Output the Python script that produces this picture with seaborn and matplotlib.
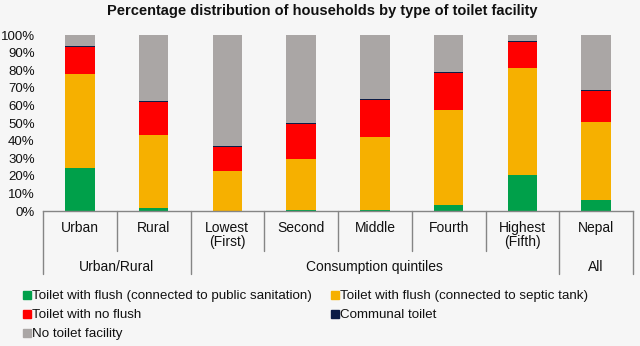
import numpy as np
import pandas as pd
import seaborn as sns
import matplotlib
matplotlib.use("Agg")
import matplotlib.pyplot as plt
from matplotlib.lines import Line2D
from matplotlib.ticker import FuncFormatter, MultipleLocator

# ---- data ----
categories = ["Urban", "Rural", "Lowest\n(First)", "Second", "Middle", "Fourth", "Highest\n(Fifth)", "Nepal"]
groups = ["Urban/Rural", "Consumption quintiles", "All"]
group_sizes = [2, 5, 1]

flush_public = [24.5, 1.9, 0.2, 0.3, 0.8, 3.4, 20.4, 6.0]
flush_septic = [53.2, 41.4, 22.8, 29.0, 41.1, 53.8, 61.1, 44.4]
no_flush = [15.6, 18.9, 13.4, 20.2, 20.9, 21.1, 14.7, 17.5]
communal = [0.6, 0.5, 0.4, 0.4, 0.8, 0.5, 0.3, 0.9]
no_toilet = [6.1, 37.3, 63.2, 50.1, 36.4, 21.2, 3.5, 31.2]

series_names = [
    "Toilet with flush (connected to public sanitation)",
    "Toilet with flush (connected to septic tank)",
    "Toilet with no flush",
    "Communal toilet",
    "No toilet facility",
]
series_values = [flush_public, flush_septic, no_flush, communal, no_toilet]
colors = ["#00a04a", "#f6b000", "#ff0000", "#0c1c46", "#aaa6a5"]

BG = "#f6f6f6"
TXT = "#111111"
LINE = "#858585"

sns.set_style("white")
plt.rcParams["font.family"] = ["Liberation Sans", "DejaVu Sans"]

fig = plt.figure(figsize=(6.4, 3.46), dpi=100, facecolor=BG)
ax = fig.add_axes([43 / 640, 1 - 211 / 346, 590 / 640, 176 / 346])
ax.set_facecolor(BG)

cum = np.cumsum(np.array(series_values), axis=0)
df = pd.DataFrame({"category": categories})
# draw from the top of the stack down so each layer overlaps the next
for i in range(len(series_values) - 1, -1, -1):
    df["v"] = cum[i]
    sns.barplot(data=df, x="category", y="v", color=colors[i], saturation=1,
                width=0.4, linewidth=0, ax=ax, order=categories)

ax.set_xlim(-0.5, len(categories) - 0.5)
ax.set_ylim(0, 100)
ax.yaxis.set_major_locator(MultipleLocator(10))
ax.yaxis.set_major_formatter(FuncFormatter(lambda v, p: f"{v:.0f}%"))
ax.set_xlabel("")
ax.set_ylabel("")
for s in ["top", "right", "left"]:
    ax.spines[s].set_visible(False)
ax.spines["bottom"].set_color(LINE)
ax.spines["bottom"].set_linewidth(1)
ax.tick_params(axis="y", length=0, pad=6, labelsize=9.5, colors=TXT)
ax.tick_params(axis="x", length=0, pad=7, labelsize=10, colors=TXT)
ax.set_xticks(range(len(categories)))
ax.set_xticklabels(categories, linespacing=1.05)

# multi-level axis separators
trans = ax.get_xaxis_transform()
inner = -40 / 176
outer = -63 / 176
group_bounds = [-0.5]
for n in group_sizes:
    group_bounds.append(group_bounds[-1] + n)
for k in range(len(categories) + 1):
    xb = k - 0.5
    depth = outer if xb in group_bounds else inner
    ax.add_line(Line2D([xb, xb], [0, depth], transform=trans, color=LINE,
                       lw=1, clip_on=False))
for gi, g in enumerate(groups):
    xc = (group_bounds[gi] + group_bounds[gi + 1]) / 2
    ax.text(xc, -56 / 176, g, transform=trans, ha="center", va="center",
            fontsize=10, color=TXT)

fig.suptitle("Percentage distribution of households by type of toilet facility",
             x=322 / 640, y=1 - 4 / 346, va="top", fontsize=10.5, fontweight="bold",
             color=TXT)

order = [0, 2, 4, 1, 3]
handles = [Line2D([], [], marker="s", ls="none", markersize=5.5,
                  markerfacecolor=colors[i], markeredgecolor=colors[i]) for i in order]
labels = [series_names[i] for i in order]
fig.legend(handles, labels, ncol=2, loc="upper left",
           bbox_to_anchor=(24 / 640, 1 - 290 / 346), frameon=False,
           fontsize=9.6, handlelength=0.45, handletextpad=0.15,
           columnspacing=1.5, labelspacing=0.5, borderpad=0, borderaxespad=0,
           labelcolor=TXT)

fig.savefig("out.png", dpi=100, facecolor=BG)
